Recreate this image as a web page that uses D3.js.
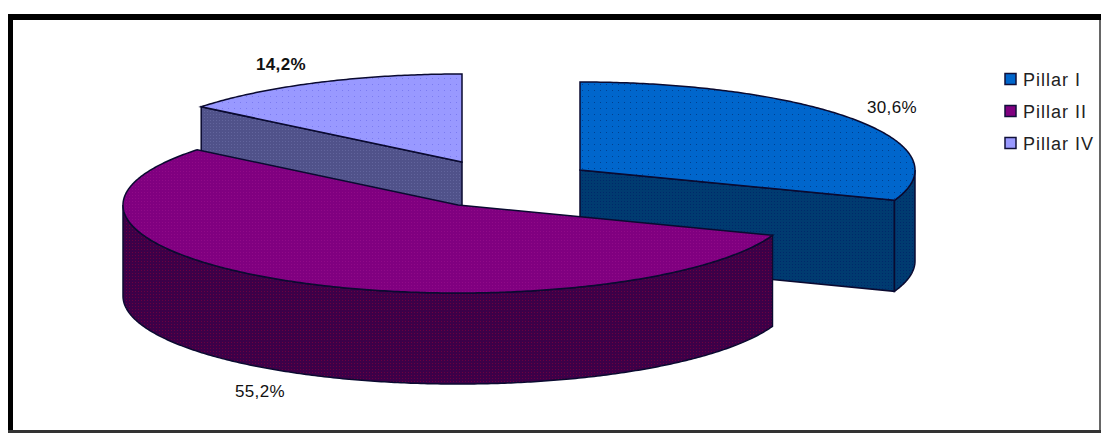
<!DOCTYPE html>
<html><head><meta charset="utf-8">
<script src="https://cdn.jsdelivr.net/npm/d3@7"></script>
<style>html,body{margin:0;padding:0;background:#fff}svg{display:block}text{font-family:"Liberation Sans",Arial,sans-serif}</style>
</head><body><svg id="c" width="1101" height="433"></svg>
<script>
const categories = ["Pillar I","Pillar II","Pillar IV"];
const values = [30.6,55.2,14.2];
const valueLabels = ["30,6%","55,2%","14,2%"];
const topColors = ["#0066cc","#800080","#9999ff"];
const wallColors = ["#003b70","#3c0048","#50528a"];
const topDots = ["#00408f","#900a88","#7a7af0"];
const wallDots = ["#00286a","#6a0040","#62649c"];
const centers = [[580,170],[458,205],[462,162]];
const labelPos = [[892,113],[260,397],[281,70]];

const rx=335,ry=88,depth=91;
const svg=d3.select("#c");
const defs=svg.append("defs");
function pattern(id,base,dot,size){
  const p=defs.append("pattern").attr("id",id).attr("patternUnits","userSpaceOnUse")
    .attr("width",size).attr("height",size);
  p.append("rect").attr("width",size).attr("height",size).attr("fill",base);
  p.append("rect").attr("width",1).attr("height",1).attr("fill",dot);
}
categories.forEach((c,i)=>{
  pattern("top"+i,topColors[i],topDots[i],i==1?3:6);
  pattern("wall"+i,wallColors[i],wallDots[i],3);
});

// frame: heavy top and left edges, thin right and bottom edges
svg.append("rect").attr("x",8).attr("y",14).attr("width",1093).attr("height",6).attr("fill","#000");
svg.append("rect").attr("x",8).attr("y",14).attr("width",5).attr("height",419).attr("fill","#000");
svg.append("rect").attr("x",1099).attr("y",20).attr("width",2).attr("height",413).attr("fill","#666");
svg.append("rect").attr("x",8).attr("y",430).attr("width",1093).attr("height",3).attr("fill","#333");

const pie=d3.pie().sort(null).value(d=>d).startAngle(0).endAngle(2*Math.PI);
const arcs=pie(values);
const X=(c,a)=>c[0]+rx*Math.sin(a), Y=(c,a)=>c[1]-ry*Math.cos(a);
const stroke="#0a0a30",sw=1.5;

function rimWall(i){
  const c=centers[i],a=arcs[i];
  const from=Math.max(a.startAngle,Math.PI/2),to=Math.min(a.endAngle,3*Math.PI/2);
  if(from>=to) return;
  const angs=d3.range(from,to,0.01).concat([to]);
  const area=d3.area().x(t=>X(c,t)).y0(t=>Y(c,t)).y1(t=>Y(c,t)+depth);
  svg.append("path").attr("d",area(angs)).attr("fill",`url(#wall${i})`).attr("stroke",stroke).attr("stroke-width",sw);
}
function radialWall(i,ang){
  const c=centers[i];
  const pts=[[c[0],c[1]],[X(c,ang),Y(c,ang)],[X(c,ang),Y(c,ang)+depth],[c[0],c[1]+depth]];
  svg.append("path").attr("d",d3.line()(pts)+"Z").attr("fill",`url(#wall${i})`).attr("stroke",stroke).attr("stroke-width",sw);
}
function topFace(i){
  const c=centers[i];
  // the top face is filled in page coordinates so that its dot pattern is not stretched
  const a=arcs[i];
  const angs=d3.range(a.startAngle,a.endAngle,0.01).concat([a.endAngle]);
  const pts=[[c[0],c[1]]].concat(angs.map(t=>[X(c,t),Y(c,t)]));
  svg.append("path").attr("d",d3.line()(pts)+"Z")
    .attr("fill",`url(#top${i})`).attr("stroke",stroke).attr("stroke-width",sw);
}
// back to front: Pillar IV, Pillar I, Pillar II
radialWall(2,arcs[2].startAngle); topFace(2);
radialWall(0,arcs[0].endAngle); rimWall(0); topFace(0);
rimWall(1); topFace(1);

valueLabels.forEach((t,i)=>{
  svg.append("text").attr("x",labelPos[i][0]).attr("y",labelPos[i][1]).attr("text-anchor","middle")
    .attr("font-size",17).attr("letter-spacing",0.4).attr("fill","#111").attr("font-weight",i==2?"bold":"normal").text(t);
});
const ly=d3.scalePoint().domain(categories).range([79,143]);
categories.forEach((t,i)=>{
  svg.append("rect").attr("x",1005).attr("y",ly(t)-5.5).attr("width",11).attr("height",11)
    .attr("fill",topColors[i]).attr("stroke","#10103a").attr("stroke-width",1.5);
  svg.append("text").attr("x",1023).attr("y",ly(t)+7).attr("font-size",18).attr("letter-spacing",1).attr("fill","#222").text(t);
});
</script></body></html>
